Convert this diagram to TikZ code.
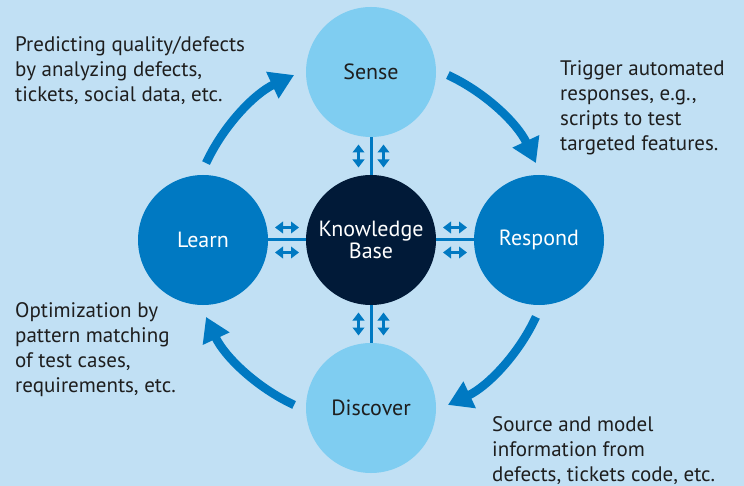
\documentclass[tikz,border=0pt]{standalone}
\usepackage{fontspec}
\setmainfont{PT Sans}
\usepackage{xcolor}
\usetikzlibrary{arrows.meta, calc}

\definecolor{bgblue}{HTML}{C1E0F4}
\definecolor{lightblue}{HTML}{7FCDF1}
\definecolor{midblue}{HTML}{0079C2}
\definecolor{darkblue}{HTML}{011A38}
\definecolor{inkgray}{HTML}{1E1E1E}

\begin{document}
\begin{tikzpicture}[x=1pt, y=-1pt,
    stage/.style={circle, minimum size=130pt, inner sep=0pt, align=center,
        font=\fontsize{22}{20}\selectfont},
    note/.style={anchor=base west, inner sep=0pt, align=left, text=inkgray,
        font=\fontsize{21}{25}\selectfont},
    link/.style={midblue, line width=3pt},
    bigarc/.style={midblue, line width=8.5pt, -{Triangle[length=24pt,width=28pt]}},
    dbl/.style={midblue, line width=3.5pt,
        {Triangle[length=8pt,width=11.5pt]}-{Triangle[length=8pt,width=11.5pt]}}]

    \fill[bgblue] (0,0) rectangle (744,486);
    \useasboundingbox (0,0) rectangle (744,486);

    % cycle arrows around the knowledge base
    \coordinate (hub) at (371,240);
    \draw[bigarc] (hub) ++(-155:182) arc[start angle=-155, end angle=-115, radius=182];
    \draw[bigarc] (hub) ++(-65:182) arc[start angle=-65, end angle=-25, radius=182];
    \draw[bigarc] (hub) ++(25:182) arc[start angle=25, end angle=65, radius=182];
    \draw[bigarc] (hub) ++(115:182) arc[start angle=115, end angle=155, radius=182];

    % stages
    \node[stage, fill=darkblue, text=white] (kb) at (hub) {Knowledge\\Base};
    \node[stage, fill=lightblue, text=inkgray] (sense) at (371,72) {Sense};
    \node[stage, fill=midblue, text=white] (learn) at (203,240) {Learn};
    \node[stage, fill=midblue, text=white] (respond) at (539,240) {Respond};
    \node[stage, fill=lightblue, text=inkgray] (discover) at (371,408) {Discover};

    \draw[link] (kb) -- (sense);
    \draw[link] (kb) -- (learn);
    \draw[link] (kb) -- (respond);
    \draw[link] (kb) -- (discover);

    % small two-way arrows
    \coordinate (up) at ($(kb.north)!0.5!(sense.south)$);
    \coordinate (down) at ($(kb.south)!0.5!(discover.north)$);
    \coordinate (lf) at ($(learn.east)!0.5!(kb.west)$);
    \coordinate (rt) at ($(kb.east)!0.5!(respond.west)$);
    \draw[dbl] ($(up)+(-12.5,-11.5)$) -- ($(up)+(-12.5,11.5)$);
    \draw[dbl] ($(up)+(12.5,-11.5)$) -- ($(up)+(12.5,11.5)$);
    \draw[dbl] ($(down)+(-12.5,-11.5)$) -- ($(down)+(-12.5,11.5)$);
    \draw[dbl] ($(down)+(12.5,-11.5)$) -- ($(down)+(12.5,11.5)$);
    \draw[dbl] ($(lf)+(-12,-12.5)$) -- ($(lf)+(12,-12.5)$);
    \draw[dbl] ($(lf)+(-12,12.5)$) -- ($(lf)+(12,12.5)$);
    \draw[dbl] ($(rt)+(-12,-12.5)$) -- ($(rt)+(12,-12.5)$);
    \draw[dbl] ($(rt)+(-12,12.5)$) -- ($(rt)+(12,12.5)$);

    % notes (anchored at the last line's baseline)
    \node[note] (predict) at (15,102) {Predicting quality/defects\\by analyzing defects,\\tickets, social data, etc.};
    \node[note] (trigger) at (560,151) {Trigger automated\\responses, e.g.,\\scripts to test\\targeted features.};
    \node[note] (optimize) at (15,392) {Optimization by\\pattern matching\\of test cases,\\requirements, etc.};
    \node[note] (source) at (492,481) {Source and model\\information from\\defects, tickets code, etc.};
\end{tikzpicture}
\end{document}
